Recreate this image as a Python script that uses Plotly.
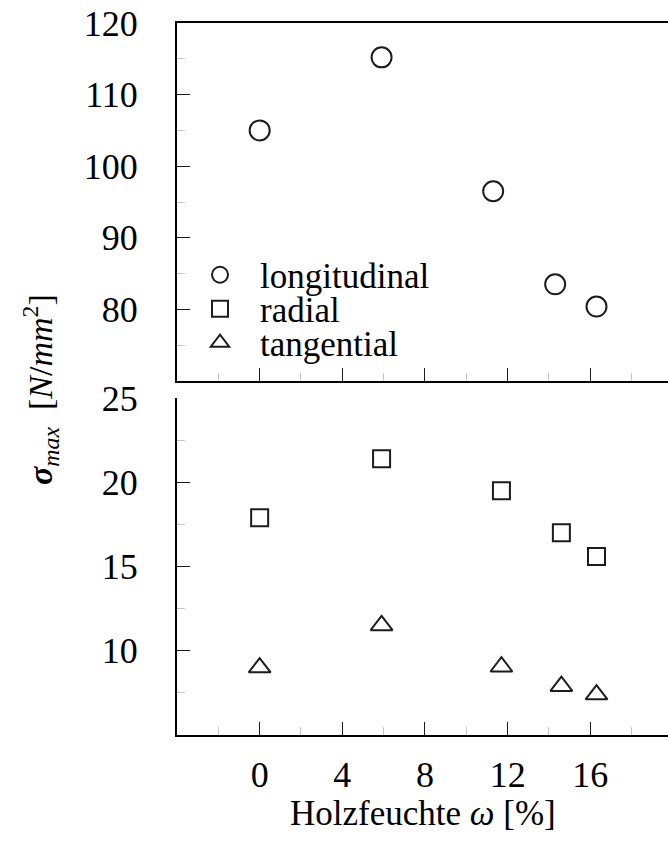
import plotly.graph_objects as go

# ---- data ----
moisture_long = [0.0, 5.9, 11.3, 14.3, 16.3]
sigma_long = [105.0, 115.2, 96.5, 83.5, 80.4]

moisture_rt = [0.0, 5.9, 11.7, 14.6, 16.3]
sigma_radial = [17.9, 21.4, 19.5, 17.0, 15.6]
sigma_tang = [9.0, 11.5, 9.05, 7.9, 7.4]

x_ticks = [0, 4, 8, 12, 16]
y_top_ticks = [80, 90, 100, 110, 120]
y_bot_ticks = [10, 15, 20, 25]

FONT = "Liberation Serif"
INK = "#1c1c1c"
MINOR = "#c4c4c4"

W, H = 668, 845
L, R, T, B = 177, 0, 23, 110
plot_h = H - T - B
top_dom = [(735 - 381) / plot_h, 1.0]
bot_dom = [0.0, (735 - 398) / plot_h]

fig = go.Figure()

fig.add_trace(go.Scatter(
    x=moisture_long, y=sigma_long, mode="markers", name="longitudinal",
    xaxis="x", yaxis="y", legend="legend",
    marker=dict(symbol="circle-open", size=20, color=INK, line=dict(width=2, color=INK)),
))
fig.add_trace(go.Scatter(
    x=moisture_rt, y=sigma_radial, mode="markers", name="radial",
    xaxis="x2", yaxis="y2", legend="legend2",
    marker=dict(symbol="square-open", size=17, color=INK, line=dict(width=2, color=INK)),
))
fig.add_trace(go.Scatter(
    x=moisture_rt, y=sigma_tang, mode="markers", name="tangential",
    xaxis="x2", yaxis="y2", legend="legend3",
    marker=dict(symbol="triangle-up-open", size=19, color=INK, line=dict(width=2, color=INK)),
))

common_x = dict(
    range=[-4, 19.76], tickvals=x_ticks, ticks="inside", ticklen=13, tickwidth=1.3,
    tickcolor=INK, showline=True, linewidth=2, linecolor="black", showgrid=False,
    zeroline=False,
    minor=dict(tickvals=[-2, 2, 6, 10, 14, 18], ticks="inside", ticklen=8,
               tickwidth=1.3, tickcolor=MINOR, showgrid=False),
)
common_y = dict(
    ticks="inside", ticklen=13, tickwidth=1.3, tickcolor=INK, showline=True,
    linewidth=2, linecolor="black", showgrid=False, zeroline=False,
    tickfont=dict(family=FONT, size=36, color="black"), ticklabelstandoff=30,
)

legend_common = dict(
    font=dict(family=FONT, size=35, color="black"), bgcolor="rgba(0,0,0,0)",
    xref="paper", yref="paper", xanchor="left", yanchor="middle",
    itemsizing="trace", itemwidth=70,
)

def py(pix):
    return (H - B - pix) / plot_h

def px(pix):
    return (pix - L) / (W - L - R)

fig.update_layout(
    width=W, height=H, margin=dict(l=L, r=R, t=T, b=B),
    paper_bgcolor="white", plot_bgcolor="white", showlegend=True,
    font=dict(family=FONT, color="black"),
    xaxis=dict(common_x, anchor="y", domain=[0, 1], showticklabels=False, mirror=True),
    xaxis2=dict(common_x, anchor="y2", domain=[0, 1], matches="x",
                tickfont=dict(family=FONT, size=36, color="black"),
                ticklabelstandoff=7),
    yaxis=dict(common_y, domain=top_dom, range=[70, 120], tickvals=y_top_ticks,
               minor=dict(tickvals=[75, 85, 95, 105, 115], ticks="inside", ticklen=8,
                          tickwidth=1.3, tickcolor=MINOR, showgrid=False)),
    yaxis2=dict(common_y, domain=bot_dom, range=[5, 25], tickvals=y_bot_ticks,
                minor=dict(tickvals=[7.5, 12.5, 17.5, 22.5], ticks="inside", ticklen=8,
                           tickwidth=1.3, tickcolor=MINOR, showgrid=False)),
    legend=dict(legend_common, x=px(180), y=py(275)),
    legend2=dict(legend_common, x=px(180), y=py(309)),
    legend3=dict(legend_common, x=px(180), y=py(343)),
    annotations=[
        dict(
            text="<b><i>σ</i></b><sub><i>max</i></sub>  [<i>N</i>/<i>mm</i><sup>2</sup>]",
            xref="paper", yref="paper", x=px(40), y=py(390), textangle=-90,
            showarrow=False, font=dict(family=FONT, size=34, color="black"),
            xanchor="center", yanchor="middle",
        ),
        dict(
            text="Holzfeuchte <i>ω</i> [%]",
            xref="paper", yref="paper", x=0.5, y=py(814),
            showarrow=False, font=dict(family=FONT, size=35, color="black"),
            xanchor="center", yanchor="middle",
        ),
    ],
)

fig.write_html("out.html", config={"displayModeBar": False},
               post_script="document.body.style.margin='0';")
